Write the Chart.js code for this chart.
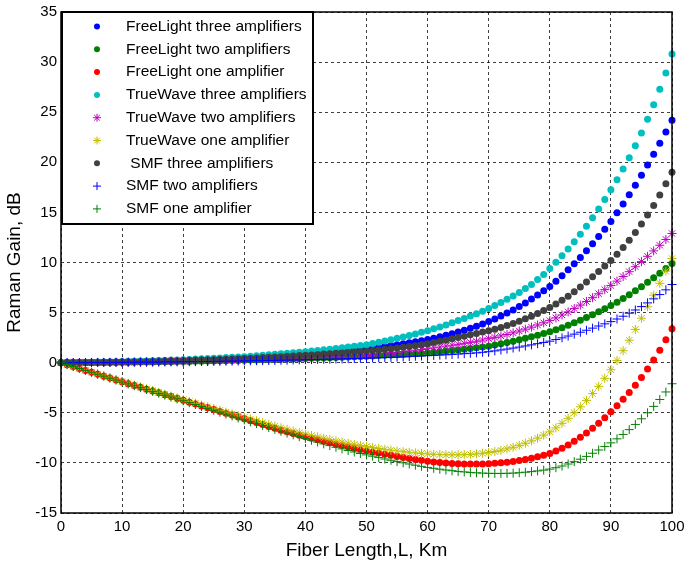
<!DOCTYPE html>
<html>
<head>
<meta charset="utf-8">
<script src="https://cdn.jsdelivr.net/npm/chart.js@4.4.1/dist/chart.umd.min.js"></script>
<style>
  html, body { margin: 0; padding: 0; background: #fff; }
  #wrap { width: 685px; height: 563px; }
</style>
</head>
<body>
<div id="wrap"><canvas id="ramanChart" width="685" height="563"></canvas></div>
<script>
// fiber length, km
const km = [0, 1, 2, 3, 4, 5, 6, 7, 8, 9, 10, 11, 12, 13, 14, 15, 16, 17, 18, 19, 20,
  21, 22, 23, 24, 25, 26, 27, 28, 29, 30, 31, 32, 33, 34, 35, 36, 37, 38, 39, 40,
  41, 42, 43, 44, 45, 46, 47, 48, 49, 50, 51, 52, 53, 54, 55, 56, 57, 58, 59, 60,
  61, 62, 63, 64, 65, 66, 67, 68, 69, 70, 71, 72, 73, 74, 75, 76, 77, 78, 79, 80,
  81, 82, 83, 84, 85, 86, 87, 88, 89, 90, 91, 92, 93, 94, 95, 96, 97, 98, 99, 100];

// Raman gain, dB
const freeLightThree = [0, 0.01, 0.02, 0.02, 0.03, 0.04, 0.05, 0.05, 0.06, 0.07, 0.08,
  0.09, 0.1, 0.12, 0.13, 0.15, 0.17, 0.19, 0.21, 0.23, 0.25,
  0.27, 0.29, 0.31, 0.34, 0.36, 0.39, 0.41, 0.44, 0.47, 0.5,
  0.53, 0.57, 0.6, 0.64, 0.68, 0.72, 0.76, 0.81, 0.85, 0.9,
  0.94, 0.98, 1.02, 1.07, 1.12, 1.17, 1.22, 1.28, 1.33, 1.4,
  1.47, 1.55, 1.63, 1.71, 1.8, 1.9, 2.0, 2.1, 2.2, 2.32,
  2.45, 2.59, 2.74, 2.9, 3.07, 3.25, 3.44, 3.64, 3.86, 4.1,
  4.37, 4.66, 4.96, 5.27, 5.6, 5.97, 6.36, 6.76, 7.17, 7.6,
  8.13, 8.69, 9.27, 9.87, 10.5, 11.17, 11.87, 12.59, 13.33, 14.1,
  14.96, 15.85, 16.77, 17.72, 18.7, 19.73, 20.8, 21.9, 23.03, 24.2];

const freeLightTwo = [0, 0, 0.01, 0.01, 0.02, 0.02, 0.02, 0.03, 0.03, 0.04, 0.04,
  0.05, 0.06, 0.06, 0.07, 0.08, 0.09, 0.1, 0.1, 0.11, 0.12,
  0.13, 0.14, 0.15, 0.17, 0.18, 0.19, 0.2, 0.22, 0.23, 0.25,
  0.26, 0.28, 0.29, 0.31, 0.33, 0.34, 0.36, 0.38, 0.4, 0.42,
  0.44, 0.46, 0.48, 0.5, 0.52, 0.54, 0.57, 0.59, 0.62, 0.65,
  0.68, 0.71, 0.74, 0.77, 0.8, 0.83, 0.86, 0.9, 0.95, 1.0,
  1.05, 1.1, 1.15, 1.21, 1.27, 1.34, 1.41, 1.48, 1.56, 1.65,
  1.76, 1.88, 2.01, 2.15, 2.29, 2.44, 2.59, 2.75, 2.91, 3.08,
  3.28, 3.5, 3.73, 3.98, 4.24, 4.51, 4.79, 5.08, 5.38, 5.7,
  6.04, 6.4, 6.78, 7.18, 7.59, 8.02, 8.47, 8.93, 9.4, 9.9];

const freeLightOne = [0, -0.2, -0.39, -0.58, -0.77, -0.96, -1.15, -1.34, -1.53, -1.72, -1.9,
  -2.09, -2.27, -2.46, -2.64, -2.83, -3.01, -3.2, -3.38, -3.57, -3.75,
  -3.94, -4.12, -4.31, -4.49, -4.68, -4.86, -5.05, -5.23, -5.42, -5.6,
  -5.79, -5.98, -6.17, -6.36, -6.55, -6.73, -6.9, -7.07, -7.23, -7.4,
  -7.55, -7.7, -7.85, -7.99, -8.13, -8.27, -8.4, -8.53, -8.66, -8.78,
  -8.9, -9.02, -9.13, -9.24, -9.35, -9.45, -9.55, -9.65, -9.74, -9.83,
  -9.9, -9.96, -10.01, -10.05, -10.08, -10.1, -10.11, -10.11, -10.1, -10.08,
  -10.04, -9.99, -9.93, -9.85, -9.76, -9.65, -9.53, -9.39, -9.23, -9.05,
  -8.81, -8.53, -8.21, -7.85, -7.45, -7.01, -6.54, -6.04, -5.49, -4.9,
  -4.3, -3.66, -2.98, -2.25, -1.47, -0.63, 0.27, 1.24, 2.28, 3.4];

const trueWaveThree = [0, 0.01, 0.02, 0.03, 0.04, 0.05, 0.06, 0.07, 0.08, 0.09, 0.1,
  0.12, 0.14, 0.16, 0.18, 0.2, 0.22, 0.24, 0.26, 0.28, 0.3,
  0.33, 0.36, 0.39, 0.42, 0.45, 0.48, 0.51, 0.54, 0.57, 0.6,
  0.64, 0.69, 0.74, 0.79, 0.84, 0.89, 0.94, 0.99, 1.04, 1.1,
  1.16, 1.22, 1.28, 1.35, 1.42, 1.49, 1.56, 1.64, 1.72, 1.8,
  1.92, 2.04, 2.17, 2.3, 2.43, 2.57, 2.72, 2.87, 3.03, 3.2,
  3.38, 3.57, 3.77, 3.98, 4.2, 4.42, 4.65, 4.89, 5.14, 5.4,
  5.7, 6.0, 6.32, 6.66, 7.0, 7.4, 7.8, 8.3, 8.8, 9.4,
  10.02, 10.67, 11.35, 12.07, 12.83, 13.63, 14.47, 15.35, 16.28, 17.26,
  18.26, 19.32, 20.45, 21.65, 22.93, 24.29, 25.74, 27.28, 28.92, 30.8];

const trueWaveTwo = [0, 0.01, 0.01, 0.02, 0.02, 0.03, 0.03, 0.04, 0.04, 0.05, 0.05,
  0.06, 0.07, 0.08, 0.09, 0.1, 0.11, 0.12, 0.13, 0.14, 0.15,
  0.16, 0.17, 0.19, 0.2, 0.22, 0.23, 0.25, 0.26, 0.28, 0.3,
  0.32, 0.34, 0.36, 0.38, 0.4, 0.42, 0.44, 0.46, 0.48, 0.5,
  0.53, 0.56, 0.59, 0.62, 0.65, 0.68, 0.71, 0.74, 0.77, 0.8,
  0.85, 0.9, 0.95, 1.0, 1.06, 1.12, 1.18, 1.25, 1.32, 1.4,
  1.48, 1.56, 1.65, 1.74, 1.83, 1.93, 2.03, 2.14, 2.26, 2.4,
  2.53, 2.67, 2.82, 2.98, 3.16, 3.35, 3.55, 3.76, 3.98, 4.2,
  4.47, 4.76, 5.07, 5.4, 5.75, 6.11, 6.49, 6.88, 7.29, 7.7,
  8.14, 8.6, 9.08, 9.58, 10.09, 10.62, 11.16, 11.72, 12.3, 12.9];

const trueWaveOne = [0, -0.19, -0.38, -0.57, -0.76, -0.95, -1.13, -1.32, -1.51, -1.7, -1.88,
  -2.06, -2.25, -2.43, -2.61, -2.79, -2.97, -3.15, -3.33, -3.52, -3.7,
  -3.88, -4.05, -4.23, -4.4, -4.58, -4.75, -4.93, -5.1, -5.28, -5.45,
  -5.63, -5.8, -5.98, -6.15, -6.32, -6.5, -6.66, -6.82, -6.98, -7.13,
  -7.27, -7.41, -7.54, -7.67, -7.8, -7.92, -8.04, -8.15, -8.26, -8.37,
  -8.47, -8.56, -8.65, -8.73, -8.81, -8.88, -8.94, -9.0, -9.05, -9.1,
  -9.14, -9.17, -9.19, -9.2, -9.2, -9.18, -9.15, -9.1, -9.04, -8.96,
  -8.86, -8.74, -8.6, -8.44, -8.25, -8.04, -7.8, -7.53, -7.23, -6.9,
  -6.5, -6.05, -5.55, -5.0, -4.4, -3.76, -3.08, -2.36, -1.56, -0.7,
  0.22, 1.2, 2.24, 3.32, 4.44, 5.58, 6.74, 7.92, 9.14, 10.4];

const smfThree = [0, 0.01, 0.01, 0.02, 0.02, 0.03, 0.03, 0.04, 0.05, 0.05, 0.06,
  0.07, 0.08, 0.09, 0.1, 0.11, 0.13, 0.14, 0.16, 0.18, 0.2,
  0.22, 0.24, 0.26, 0.28, 0.3, 0.32, 0.34, 0.37, 0.39, 0.42,
  0.45, 0.48, 0.51, 0.54, 0.57, 0.6, 0.64, 0.67, 0.71, 0.75,
  0.78, 0.82, 0.86, 0.9, 0.94, 0.98, 1.02, 1.06, 1.1, 1.15,
  1.21, 1.27, 1.33, 1.4, 1.47, 1.54, 1.62, 1.7, 1.79, 1.9,
  2.01, 2.13, 2.25, 2.38, 2.51, 2.64, 2.78, 2.92, 3.06, 3.2,
  3.35, 3.52, 3.71, 3.92, 4.14, 4.38, 4.64, 4.91, 5.2, 5.5,
  5.85, 6.23, 6.64, 7.08, 7.55, 8.05, 8.57, 9.1, 9.65, 10.2,
  10.82, 11.49, 12.21, 12.99, 13.83, 14.73, 15.7, 16.74, 17.85, 19.0];

const smfTwo = [0, 0, 0.01, 0.01, 0.01, 0.02, 0.02, 0.02, 0.02, 0.03, 0.03,
  0.04, 0.04, 0.05, 0.05, 0.06, 0.06, 0.07, 0.08, 0.08, 0.09,
  0.1, 0.11, 0.12, 0.12, 0.13, 0.14, 0.15, 0.16, 0.17, 0.18,
  0.19, 0.2, 0.21, 0.22, 0.23, 0.24, 0.25, 0.27, 0.28, 0.3,
  0.31, 0.32, 0.34, 0.35, 0.37, 0.38, 0.4, 0.41, 0.43, 0.45,
  0.47, 0.49, 0.51, 0.53, 0.56, 0.58, 0.61, 0.64, 0.67, 0.7,
  0.73, 0.76, 0.79, 0.83, 0.86, 0.9, 0.94, 0.98, 1.04, 1.1,
  1.18, 1.27, 1.36, 1.46, 1.56, 1.67, 1.78, 1.9, 2.02, 2.15,
  2.31, 2.48, 2.66, 2.85, 3.04, 3.24, 3.45, 3.66, 3.88, 4.1,
  4.36, 4.64, 4.94, 5.26, 5.6, 5.97, 6.37, 6.8, 7.27, 7.8];

const smfOne = [0, -0.19, -0.39, -0.58, -0.77, -0.96, -1.15, -1.34, -1.54, -1.73, -1.92,
  -2.11, -2.3, -2.49, -2.68, -2.86, -3.05, -3.24, -3.43, -3.61, -3.8,
  -3.99, -4.18, -4.37, -4.56, -4.75, -4.94, -5.13, -5.32, -5.51, -5.7,
  -5.89, -6.08, -6.27, -6.46, -6.65, -6.84, -7.02, -7.2, -7.38, -7.56,
  -7.74, -7.92, -8.1, -8.27, -8.44, -8.6, -8.76, -8.91, -9.06, -9.2,
  -9.33, -9.47, -9.61, -9.74, -9.87, -9.99, -10.11, -10.23, -10.34, -10.45,
  -10.54, -10.63, -10.71, -10.78, -10.85, -10.9, -10.95, -10.99, -11.02, -11.04,
  -11.05, -11.05, -11.04, -11.02, -10.98, -10.93, -10.87, -10.8, -10.72, -10.62,
  -10.48, -10.31, -10.11, -9.88, -9.63, -9.35, -9.04, -8.71, -8.37, -8.0,
  -7.6, -7.16, -6.68, -6.16, -5.6, -5.0, -4.36, -3.67, -2.92, -2.1];

const seriesLabels = [
  'FreeLight three amplifiers', 'FreeLight two amplifiers', 'FreeLight one amplifier',
  'TrueWave three amplifiers', 'TrueWave two amplifiers', 'TrueWave one amplifier',
  ' SMF three amplifiers', 'SMF two amplifiers', 'SMF one amplifier'
];
const seriesValues = [freeLightThree, freeLightTwo, freeLightOne,
  trueWaveThree, trueWaveTwo, trueWaveOne, smfThree, smfTwo, smfOne];
const seriesColors = ['#0000ff', '#008000', '#ff0000', '#00bfbf', '#bf00bf', '#bfbf00',
  '#404040', '#0000ff', '#008000'];
const seriesMarkers = ['circle', 'circle', 'circle', 'circle', 'star', 'star',
  'circle', 'cross', 'cross'];

const FONT = "'Liberation Sans', Arial, Helvetica, sans-serif";
Chart.defaults.font.family = FONT;
Chart.defaults.color = '#000';

function markerSize(style) {
  return style === 'circle' ? 3.5 : 4.5;
}

function drawMarker(ctx, style, x, y, color) {
  const r = style === 'circle' ? 3 : 4;
  ctx.fillStyle = color;
  ctx.strokeStyle = color;
  ctx.lineWidth = 1;
  ctx.beginPath();
  if (style === 'circle') {
    ctx.arc(x, y, r, 0, Math.PI * 2);
    ctx.fill();
    return;
  }
  ctx.moveTo(x - r, y); ctx.lineTo(x + r, y);
  ctx.moveTo(x, y - r); ctx.lineTo(x, y + r);
  if (style === 'star') {
    const d = r * Math.SQRT1_2;
    ctx.moveTo(x - d, y - d); ctx.lineTo(x + d, y + d);
    ctx.moveTo(x - d, y + d); ctx.lineTo(x + d, y - d);
  }
  ctx.stroke();
}

// box around the plot + legend drawn inside the top-left corner
const framePlugin = {
  id: 'frame',
  afterDatasetsDraw(chart) {
    const ctx = chart.ctx;
    const a = chart.chartArea;
    ctx.save();
    ctx.strokeStyle = '#000';
    ctx.lineWidth = 1.5;
    ctx.strokeRect(a.left, a.top, a.right - a.left, a.bottom - a.top);

    const lx = a.left + 1, ly = a.top, lw = 251, lh = 212;
    ctx.fillStyle = '#fff';
    ctx.fillRect(lx, ly, lw, lh);
    ctx.lineWidth = 2;
    ctx.strokeStyle = '#000';
    ctx.strokeRect(lx, ly, lw, lh);

    ctx.font = '15.5px ' + FONT;
    ctx.textAlign = 'left';
    ctx.textBaseline = 'middle';
    seriesLabels.forEach((label, i) => {
      const y = ly + 14.5 + i * 22.8;
      drawMarker(ctx, seriesMarkers[i], lx + 35, y, seriesColors[i]);
      ctx.fillStyle = '#000';
      ctx.fillText(label, lx + 64, y);
    });
    ctx.restore();
  }
};

const datasets = seriesLabels.map((label, i) => ({
  label: label,
  data: km.map((x, j) => ({ x: x, y: seriesValues[i][j] })),
  showLine: false,
  pointStyle: seriesMarkers[i],
  pointRadius: markerSize(seriesMarkers[i]),
  pointBorderWidth: seriesMarkers[i] === 'circle' ? 0 : 1,
  backgroundColor: seriesColors[i],
  borderColor: seriesColors[i],
  order: seriesLabels.length - i,
  clip: false
}));

const ctx = document.getElementById('ramanChart').getContext('2d');
const ramanChart = new Chart(ctx, {
  type: 'scatter',
  data: { datasets: datasets },
  options: {
    responsive: false,
    animation: false,
    devicePixelRatio: 1,
    layout: { padding: { top: 12, right: 13, left: 0, bottom: 0 } },
    scales: {
      x: {
        type: 'linear',
        min: 0,
        max: 100,
        ticks: { stepSize: 10, font: { size: 15 }, padding: 5, maxRotation: 0, color: '#000' },
        grid: { color: 'rgba(0,0,0,0.75)', lineWidth: 1, drawTicks: false },
        border: { display: false, dash: [3, 3] },
        title: { display: true, text: 'Fiber Length,L, Km', font: { size: 19 }, color: '#000', padding: { top: 0, bottom: 1 } },
        afterFit(scale) {
          scale.height = 50;
          scale.paddingLeft = 0;
          scale.paddingRight = 0;
        }
      },
      y: {
        min: -15,
        max: 35,
        ticks: { stepSize: 5, font: { size: 15 }, padding: 4, color: '#000' },
        grid: { color: 'rgba(0,0,0,0.75)', lineWidth: 1, drawTicks: false },
        border: { display: false, dash: [3, 3] },
        title: { display: true, text: 'Raman Gain, dB', font: { size: 19 }, color: '#000', padding: { top: 3, bottom: 0 } },
        afterFit(scale) {
          scale.width = 61;
          scale.paddingTop = 0;
          scale.paddingBottom = 0;
        }
      }
    },
    plugins: {
      legend: { display: false },
      tooltip: { enabled: false }
    }
  },
  plugins: [framePlugin]
});
</script>
</body>
</html>
